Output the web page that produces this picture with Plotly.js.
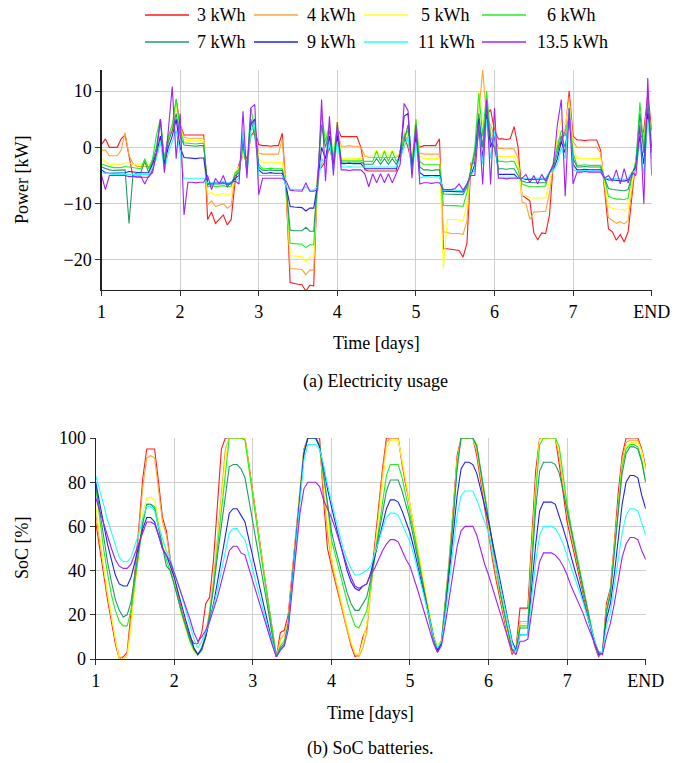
<!DOCTYPE html>
<html><head><meta charset="utf-8">
<script src="https://cdn.plot.ly/plotly-3.0.1.min.js"></script>
<style>html,body{margin:0;padding:0;background:#fff}#chart{width:683px;height:763px}</style>
</head><body><div id="chart"></div>
<script>
const days = [
1,1.05,1.1,1.15,1.2,1.25,1.3,1.35,1.4,1.45,1.5,1.55,1.6,1.65,1.7,1.75,1.8,1.85,1.9,1.95,
2,2.05,2.1,2.15,2.2,2.25,2.3,2.35,2.4,2.45,2.5,2.55,2.6,2.65,2.7,2.75,2.8,2.85,2.9,2.95,
3,3.05,3.1,3.15,3.2,3.25,3.3,3.35,3.4,3.45,3.5,3.55,3.6,3.65,3.7,3.75,3.8,3.85,3.9,3.95,
4,4.05,4.1,4.15,4.2,4.25,4.3,4.35,4.4,4.45,4.5,4.55,4.6,4.65,4.7,4.75,4.8,4.85,4.9,4.95,
5,5.05,5.1,5.15,5.2,5.25,5.3,5.35,5.4,5.45,5.5,5.55,5.6,5.65,5.7,5.75,5.8,5.85,5.9,5.95,
6,6.05,6.1,6.15,6.2,6.25,6.3,6.35,6.4,6.45,6.5,6.55,6.6,6.65,6.7,6.75,6.8,6.85,6.9,6.95,
7,7.05,7.1,7.15,7.2,7.25,7.3,7.35,7.4,7.45,7.5,7.55,7.6,7.65,7.7,7.75,7.8,7.85,7.9,7.95,
8];
const tickVals = [1,2,3,4,5,6,7,8];
const tickText = ['1','2','3','4','5','6','7','END'];
const labels = ['3 kWh','4 kWh','5 kWh','6 kWh','7 kWh','9 kWh','11 kWh','13.5 kWh'];
const colors = ['#ff1a1a','#ffa533','#ffff1a','#22ee22','#229a66','#2222ee','#22ffff','#a020ff'];

// ---- Power [kW] ----
const pow3 = [
0.5,1.5,0,0,0,1.5,2.2,-1.5,-5.2,-5.3,-5.3,-5.3,-5.3,-4,-1,1,-2,2,3,8.5,
4,2.2,2.2,2.2,2.1,2.2,2.2,-12.8,-11.5,-13.5,-12.8,-12,-13.8,-12.8,-6,-3,-1,-2,2,3,
0.5,0.3,0.3,0.2,0.3,0.3,2.5,-8,-24,-24.2,-24.3,-24.4,-25.5,-24.5,-24.6,-4.2,-3.5,-2.5,0,-3,
3.5,1.9,1.9,2,1.9,1.9,0,-4,-4.2,-4.2,-4.2,-4.2,-4.2,-4.2,-4.2,-4.2,-0.5,2,0,-3,
1,0,0.3,0.3,0.2,0.3,1.5,-18,-18,-18.1,-18.2,-18.3,-19.5,-17,-2.8,-2.8,3,2,5.8,6.7,
3,1.5,1.5,1.4,1.5,3.7,0,-8.5,-9,-9.5,-15.2,-16.4,-15.2,-15.3,-12,-2.5,0,1,3,10,
2,1.3,1.3,1.2,1.3,1.3,1.3,-0.5,-8,-14.5,-15,-16.5,-15.5,-16.8,-15,-8,-2,1,3,9.5,
3];
const pow4 = [
-0.5,-0.5,-1.5,-1.5,-1.5,-0.5,2.6,-1.5,-2.8,-3.4,-3.4,-3.4,-3.4,-3,-1,1,-2,2,3,8,
4,1.8,1.6,1.6,1.5,1.6,1.6,-10.2,-9.5,-10.5,-10.2,-10,-10.8,-10.3,-5,-3.3,-1.5,-2.5,2,2.5,
-1,-1.2,-1.2,-1.3,-1.2,-1.2,1.5,-8,-21.5,-21.6,-21.7,-21.7,-22.6,-21.8,-21.8,-4.5,-3,-2,1,-3,
3,0.2,0.2,0.3,0.2,0.2,0,-1.5,-1.8,-1.8,-1.8,-1.8,-1.8,-1.8,-1.8,-1.8,-1,2.5,1,-2.5,
2,-1,-1.2,-1.2,-1.3,-1.2,-1.2,-15,-15.2,-15.3,-15.3,-15.3,-15.5,-13,-3,-2,6,13.8,5,4,
2,-0.2,-0.2,-0.3,-0.2,-0.3,-2,-9.7,-10,-12.8,-11.5,-11.4,-11.4,-11.4,-8,-3,1,2,3,9,
1,0,0,0.1,0,0,0,-1,-7,-12.5,-13,-13.5,-13.2,-13.6,-13,-7,-1.5,1.5,2,8,
2];
const pow5 = [
-2,-2.5,-3,-3,-3,-3,-2.8,-2.8,-3,-3,-3,-3,-3,-2.5,0,2,-2,1,3,7.5,
3,1.4,1.2,1.2,1.1,1.2,1.2,-8.3,-8,-8.5,-8.3,-8.2,-8.5,-8.2,-4.5,-3.5,-1,-3,3,4,
-2,-2.7,-2.7,-2.6,-2.7,-2.7,-2.7,-7,-19.2,-19.3,-19.4,-19.4,-20.3,-19.5,-19.5,-5,3,2,3,-2,
5,-2,-2,-1.9,-2,-2,-2,-1.5,-1.5,-1.5,-0.5,-1.5,-0.5,-1.5,-0.5,-1.5,-1,3,2,-2,
5,-1.5,-2,-2,-2.1,-2,-2,-21.5,-12.8,-12.8,-12.8,-12.9,-13,-10,-3.5,-1,10,4,6,3,
1,-1.6,-1.6,-1.7,-1.6,-1.6,-3,-8.5,-8.5,-9,-9,-9,-9,-9,-6,-3,2,5,4,8,
0,-2,-2,-1.9,-2,-2,-2,-2,-6,-10.5,-10.8,-11,-11,-11.2,-10.8,-6,-2,2,1,7,
1];
const pow6 = [
-3,-3.2,-3.5,-3.6,-3.6,-3.6,-3.4,-3.5,-3.6,-3.8,-3.8,-2,-3.8,-2,2.2,5,-2,2,4,8.6,
3,0.8,0.7,0.7,0.6,0.7,0.7,-7,-6.8,-7,-6.9,-6.8,-7,-6.9,-4.5,-4,0,-3.5,7,3,
-3,-3.8,-3.8,-3.7,-3.8,-3.8,-3.8,-7,-17,-17.1,-17.2,-17.2,-17.8,-17.3,-17.3,-5.5,6,1,4,-2,
4,-2.3,-2.3,-2.2,-2.3,-2.3,-2.3,-2.5,-2.5,-2.5,-0.7,-2.5,-0.7,-2.5,-0.7,-2.5,-1.5,2,3,-3,
5,-2.5,-3.1,-3.1,-3.2,-3.1,-3.1,-10.3,-10.3,-10.3,-10.4,-10.4,-10.5,-8,-4,0,9.6,2,10,2,
0,-2.5,-2.5,-2.6,-2.5,-2.5,-4,-6.5,-6.8,-7,-7,-6.9,-6.9,-6.9,-4.5,-3,0,3,2,6,
-1,-3.2,-3.2,-3.1,-3.2,-3.2,-3.2,-3.2,-5.5,-8.7,-9,-9.2,-9.2,-9.3,-9,-5,-2.5,8,0,8.5,
0];
const pow7 = [
-3.5,-3.8,-4,-4.1,-4.1,-4.1,-4,-13.5,-5,-4.5,-4.5,-2.5,-4.5,-2.5,0,5,-3,1,3,6,
2,0.4,0.3,0.3,0.2,0.3,0.3,-6.6,-6.5,-6.5,-6.5,-6.4,-6.6,-6.5,-5,-4.5,1,-4,5,2,
-3.5,-4.1,-4.1,-4,-4.1,-4.1,-4.1,-7,-14.7,-14.8,-14.8,-14.8,-14.2,-14.9,-14.9,-6,4,0,3,-3,
3,-2.6,-2.6,-2.5,-2.6,-2.6,-2.6,-3,-3,-3,-2,-3,-2,-3,-2,-3,-2,1,4,-3.5,
3,-3.5,-4,-4,-4.1,-4,-4,-8.3,-8.3,-8.3,-8.3,-8.3,-8.4,-7,-4,-1,6,0,8,1,
0,-3.8,-3.8,-3.9,-3.8,-3.8,-5,-6,-6.2,-6.3,-6.3,-6.3,-6.3,-6.3,-4.5,-3.5,-1,2,0,5,
-2,-3.5,-3.5,-3.4,-3.5,-3.5,-3.5,-3.5,-5.5,-7.3,-7.5,-7.6,-7.6,-7.7,-7.5,-5,-3,6,-1,7,
0];
const pow9 = [
-4,-4.5,-4.6,-4.6,-4.6,-4.6,-4.5,-4.3,-4.4,-4.5,-4.5,-4.5,-4.5,-3,-1,2,-3,0,2,5,
0,-1.8,-1.9,-1.9,-2,-1.9,-1.9,-6.4,-6.3,-6.3,-6.3,-6.2,-6.4,-6.3,-5.5,-5,2,-4.5,4,5,
-4,-4.6,-4.6,-4.5,-4.6,-4.6,-4.6,-7,-10.5,-10.6,-10.7,-10.7,-11.3,-10.8,-10.8,-6.5,0,-2,2,-3.5,
2,-2.9,-2.9,-2.8,-2.9,-2.9,-2.9,-3.8,-3.8,-3.8,-3.8,-3.8,-3.8,-3.8,-3.8,-3.8,-1,5.5,6,-4,
2,-4.5,-5,-5,-5.1,-5,-5,-7.8,-7.8,-7.8,-7.8,-7.8,-7.9,-6.5,-5,-3,5,-2,6,0,
2,-4.8,-4.8,-4.9,-4.8,-4.8,-5.5,-5.5,-5.7,-5.7,-5.7,-5.6,-5.6,-5.6,-4.5,-4,-2,1,-1,6,
-3,-4,-4,-3.9,-4,-4,-4,-4,-5.5,-5.8,-5.8,-5.9,-5.9,-6,-5.8,-4.5,-3.5,2,-3,6,
-1];
const pow11 = [
-4.5,-4.6,-4.8,-4.8,-4.8,-4.8,-4.7,-4.7,-4.8,-4.8,-4.8,-4.8,-4.8,-3.5,-2,1,-4,-1,1,3,
-1,-5.5,-5.5,-5.5,-5.6,-5.5,-5.5,-6.3,-6.2,-6.2,-6.2,-6.1,-6.3,-6.2,-6,-5.5,3,-5,3,4,
-5,-5,-5,-4.9,-5,-5,-5,-7,-7.4,-7.5,-7.5,-7.5,-7,-7.6,-7.6,-7,-2,-3,1,-4,
1,-3.5,-3.5,-3.4,-3.5,-3.5,-3.5,-3.5,-3.5,-3.5,-3.5,-3.5,-3.5,-3.5,-3.5,-3.5,-2,0,2,-5,
1,-5.5,-5.2,-5.2,-5.3,-5.2,-5.2,-7.7,-7.6,-7.6,-7.6,-7.6,-7.7,-6.5,-5,-4,4,-3,5,-2,
3,-5.3,-5.3,-5.4,-5.3,-5.3,-5.5,-5.5,-5.6,-5.6,-5.6,-5.5,-5.5,-5.5,-4.5,-4,-3,0,-2,7,
-4,-4.2,-4.2,-4.1,-4.2,-4.2,-4.2,-4.2,-5.5,-5.5,-5.5,-5.6,-5.6,-5.7,-5.5,-4.5,-4,1,-5,5,
-2];
const pow135 = [
-5,-7.5,-5,-5,-5,-5,-5,-5.2,-5.2,-5.1,-5.1,-6.5,-5.1,-4.5,-1,5,-4.5,3,10.8,-2,
6,-12,-6.2,-6.2,-6.3,-6.2,-6.2,-5,-7.5,-5.5,-6.5,-5,-7,-6.2,-6,-6.5,6.4,-5.5,7,7.6,
-8.4,-5.5,-5.5,-5.4,-5.5,-5.5,-5.5,-6,-7.6,-7.7,-7.7,-7.8,-6.3,-7.8,-7.8,-7.5,8.5,-6,5.5,-5,
4.5,-4,-4,-4.1,-4,-4,-4,-4.7,-7,-4.7,-6.3,-4.7,-6.3,-4.7,-6.3,-4.7,-3,7.8,6.5,-5.5,
4,-6.5,-6.3,-6.3,-6.4,-6.3,-6.3,-7.5,-7.5,-7.5,-7.3,-6.5,-7.6,-6.5,-5,-5,4.3,-6.6,8.5,-6.6,
7,-5.5,-5.5,-5.6,-5.5,-5.5,-5.5,-5.5,-4.8,-6.3,-5,-6.5,-4.8,-6,-4.5,-3,4,8.5,-8.7,7,
-6.5,-4.4,-4.4,-4.3,-4.4,-4.4,-4.4,-4.4,-5.5,-5,-6,-4,-6.5,-3.8,-6.3,-4.5,-5,4,-10,12.3,
-5];

// ---- SoC [%] ----
const soc3 = [
62,50,38,27,17,7,0,1,3,20,40,60,82,95,95,95,80,64,58,45,
36,28,21,15,10,7,7,12,25,28,45,70,95,100,100,100,100,100,100,88,
76,63,50,37,25,12,1,12,13,20,38,57,77,95,100,100,100,100,72,50,
42,35,27,20,13,6,1,2,10,14,34,52,68,86,100,100,100,100,88,78,
70,60,49,38,27,17,8,3,8,25,45,68,92,100,100,100,100,92,80,68,
56,45,35,26,17,9,2,5,23,23,23,55,85,100,100,100,100,100,88,75,
62,54,46,38,30,22,14,6,1,3,25,32,52,75,92,100,100,100,100,95,
87];
const soc4 = [
66,53,40,29,19,9,1,0,2,18,38,57,78,91,92,91,77,62,56,44,
36,27,20,14,8,4,2,5,12,22,36,55,75,95,100,100,100,100,100,88,
75,62,50,37,24,12,1,9,11,18,37,56,76,94,100,100,100,96,78,57,
44,36,28,20,13,7,2,1,5,12,30,48,65,84,98,100,100,100,89,79,
70,60,49,38,28,18,9,4,8,24,44,67,90,100,100,100,100,94,82,70,
58,47,37,28,19,10,3,4,17,17,17,50,80,100,100,100,100,100,92,79,
66,57,48,40,32,23,15,7,2,3,23,31,50,72,90,98,99,99,99,94,
86];
const soc5 = [
70,55,42,30,19,9,0,0,1,14,33,50,66,73,73,72,62,53,48,42,
35,27,19,13,8,3,2,4,10,20,34,52,70,90,100,100,100,100,100,86,
73,61,48,36,24,12,1,7,9,17,36,56,75,94,100,100,100,96,82,64,
47,38,30,22,15,8,3,2,8,16,32,48,64,80,95,99,99,99,90,80,
71,61,50,40,30,20,11,6,9,24,44,66,89,100,100,100,100,95,84,72,
60,49,39,29,20,11,4,4,16,16,16,48,78,99,100,100,100,100,94,81,
68,58,49,41,32,24,15,7,2,3,22,30,49,70,88,96,98,98,98,94,
85];
const soc6 = [
78,63,50,39,29,22,17,15,15,22,35,48,61,70,70,69,60,51,45,40,
34,27,20,14,8,4,2,4,10,20,34,50,67,85,100,100,100,100,99,86,
72,60,48,36,24,12,1,6,8,16,35,55,75,93,100,100,100,97,84,70,
54,47,40,32,26,20,15,14,18,22,33,45,58,71,83,88,88,88,82,74,
66,57,47,37,27,17,9,4,8,24,43,65,88,100,100,100,100,97,86,74,
62,51,40,30,21,12,4,4,15,15,15,45,75,97,100,100,100,100,96,83,
70,60,51,42,33,24,16,8,3,3,22,30,48,69,87,95,97,97,96,90,
80];
const soc7 = [
79,67,55,44,35,27,22,19,20,26,38,50,62,70,70,68,59,50,42,40,
34,27,20,14,9,5,2,4,10,20,32,47,60,74,87,88,88,86,82,72,
62,52,42,31,21,10,1,5,7,15,34,54,74,93,100,100,100,96,84,70,
58,50,43,36,30,25,22,22,25,28,36,46,56,67,76,81,81,81,76,70,
63,54,45,36,27,18,10,4,8,23,42,63,86,100,100,100,100,96,85,73,
61,50,40,30,21,12,4,4,14,14,14,42,68,85,89,89,89,88,84,76,
67,58,49,41,32,24,15,8,3,3,21,29,46,66,84,93,96,96,95,89,
80];
const soc9 = [
80,71,61,52,45,38,34,33,33,37,44,51,59,64,64,62,56,50,47,42,
37,30,23,17,11,5,2,5,10,17,25,35,45,56,66,68,68,65,62,54,
46,38,30,22,15,7,1,4,6,15,34,54,74,93,100,100,100,96,86,77,
69,61,54,47,40,35,32,31,33,34,39,46,53,61,68,72,72,71,67,62,
57,50,42,34,26,18,10,4,7,21,38,56,74,86,89,89,88,84,77,69,
62,53,44,35,26,17,8,4,11,11,11,33,52,67,71,71,71,70,65,59,
53,46,40,34,27,20,13,7,2,3,18,25,38,55,70,80,83,83,82,74,
68];
const soc11 = [
83,77,70,63,57,51,46,44,44,46,51,57,64,69,69,67,60,54,49,45,
40,34,28,22,15,9,5,8,12,17,24,31,40,48,57,59,59,56,54,47,
40,33,27,20,13,7,1,4,6,14,33,53,72,90,97,97,97,95,88,79,
71,64,57,50,45,41,38,38,39,40,42,47,53,59,64,66,66,65,61,57,
53,47,40,32,25,18,10,5,8,20,35,50,65,74,76,76,76,72,67,62,
57,49,41,33,24,16,7,3,11,11,11,28,44,56,60,60,60,59,56,52,
47,42,37,32,26,20,14,8,3,3,15,21,32,45,57,65,68,68,67,62,
56];
const soc135 = [
73,67,61,55,50,45,42,41,41,43,48,53,58,62,62,61,56,50,47,44,
39,34,28,23,18,12,8,10,13,17,22,28,35,42,49,51,51,48,47,41,
35,29,23,17,11,6,1,4,6,13,31,50,66,77,80,80,80,78,72,68,
64,59,53,48,42,37,33,32,33,34,38,41,45,49,52,54,54,53,49,45,
42,37,31,25,19,13,7,3,6,16,28,40,51,58,60,60,60,56,49,43,
38,32,26,20,14,9,4,2,8,8,9,22,34,44,48,48,48,47,45,42,
38,33,29,25,21,16,11,7,3,2,10,16,25,36,46,52,55,55,54,49,
45];

const powerSeries = [pow3,pow4,pow5,pow6,pow7,pow9,pow11,pow135];
const socSeries = [soc3,soc4,soc5,soc6,soc7,soc9,soc11,soc135];

const W = 683, H = 763;
const FONT = 'Liberation Serif, Times New Roman, serif';
const FS = 18;
const px = v => v / W;
const py = v => (H - v) / H;

const traces = [];
powerSeries.forEach((ys, i) => {
  traces.push({
    x: days, y: ys, type: 'scatter', mode: 'lines', name: labels[i],
    line: {color: colors[i], width: 1.1},
    xaxis: 'x', yaxis: 'y', showlegend: false
  });
});
socSeries.forEach((ys, i) => {
  traces.push({
    x: days, y: ys, type: 'scatter', mode: 'lines', name: labels[i],
    line: {color: colors[i], width: 1.1},
    xaxis: 'x2', yaxis: 'y2', showlegend: false
  });
});

const axisCommon = {
  showline: true, linecolor: '#222', linewidth: 1.2, mirror: false,
  showgrid: true, gridcolor: '#cfcfcf', gridwidth: 1,
  zeroline: false, ticks: 'outside', ticklen: 5, tickcolor: '#333',
  tickfont: {family: FONT, size: FS, color: '#000'}
};

const ann = (text, x, y, angle, size) => ({
  text, x: px(x), y: py(y), xref: 'paper', yref: 'paper',
  showarrow: false, xanchor: 'center', yanchor: 'middle',
  textangle: angle || 0, font: {family: FONT, size: size || FS, color: '#000'}
});

// manual legend: 2 rows x 4 columns (as in the reference)
const legLineX = [145, 254, 364, 482];
const legTextX = [221, 331, 445, 571];
const legRowY = [15, 42];
const shapes = [];
const annotations = [
  ann('Power [kW]', 22, 180, -90),
  ann('Time [days]', 376, 343),
  ann('(a) Electricity usage', 375, 381),
  ann('SoC [%]', 22, 548, -90),
  ann('Time [days]', 370, 713),
  ann('(b) SoC batteries.', 370, 748)
];
labels.forEach((lab, i) => {
  const col = i % 4, row = Math.floor(i / 4);
  shapes.push({
    type: 'line', xref: 'paper', yref: 'paper',
    x0: px(legLineX[col]), x1: px(legLineX[col] + 44),
    y0: py(legRowY[row]), y1: py(legRowY[row]),
    line: {color: colors[i], width: 1.5}
  });
  annotations.push(ann(lab, legTextX[col] + (row === 1 && col > 1 ? 1 : 0), legRowY[row]));
});

const layout = {
  width: W, height: H,
  margin: {l: 0, r: 0, t: 0, b: 0},
  paper_bgcolor: '#fff', plot_bgcolor: '#fff',
  showlegend: false,
  xaxis: Object.assign({}, axisCommon, {
    domain: [px(101.5), px(651.7)], range: [1, 8], anchor: 'y',
    tickvals: tickVals, ticktext: tickText
  }),
  yaxis: Object.assign({}, axisCommon, {
    domain: [py(290), py(70)], range: [-25.33, 13.73], anchor: 'x',
    tickvals: [-20, -10, 0, 10]
  }),
  xaxis2: Object.assign({}, axisCommon, {
    domain: [px(95.7), px(645.7)], range: [1, 8], anchor: 'y2',
    tickvals: tickVals, ticktext: tickText
  }),
  yaxis2: Object.assign({}, axisCommon, {
    domain: [py(659), py(438)], range: [0, 100], anchor: 'x2',
    tickvals: [0, 20, 40, 60, 80, 100]
  }),
  shapes: shapes,
  annotations: annotations
};

Plotly.newPlot('chart', traces, layout, {staticPlot: true, displayModeBar: false});
</script>
</body></html>
